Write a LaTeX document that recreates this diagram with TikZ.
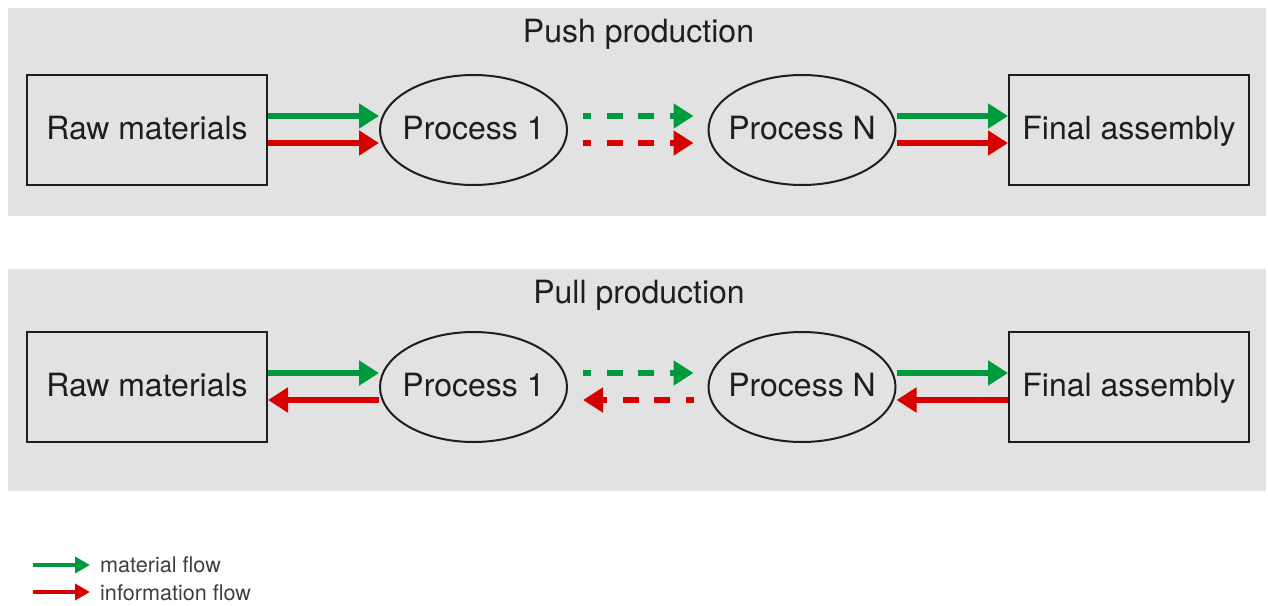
\documentclass[tikz,border=0pt]{standalone}
\usepackage{fontspec}
\setmainfont{TeX Gyre Heros}
\usetikzlibrary{arrows.meta,shapes.geometric}

\definecolor{panelgray}{RGB}{226,226,226}
\definecolor{flowgreen}{RGB}{0,154,62}
\definecolor{flowred}{RGB}{214,0,0}
\definecolor{inkgray}{RGB}{30,30,30}

\tikzset{
  panel/.style={fill=panelgray, draw=none},
  stagebox/.style={draw=inkgray, line width=2pt, rectangle, inner sep=0pt,
    minimum width=240pt, minimum height=110pt,
    font=\fontsize{32pt}{36pt}\selectfont, text=inkgray,
    text height=23pt, text depth=4pt},
  proc/.style={draw=inkgray, line width=2pt, ellipse, inner sep=0pt,
    minimum width=187pt, minimum height=110pt},
  proclabel/.style={font=\fontsize{32pt}{36pt}\selectfont, text=inkgray,
    inner sep=0pt, text height=23pt, text depth=4pt},
  paneltitle/.style={font=\fontsize{32pt}{36pt}\selectfont, text=inkgray,
    inner sep=0pt, anchor=base},
  legendtext/.style={font=\fontsize{21.6pt}{25pt}\selectfont, text=inkgray!85,
    inner sep=0pt, anchor=base west},
  flow/.style={line width=6.5pt, -{Triangle[length=20pt,width=24pt]}},
  mat/.style={flow, draw=flowgreen},
  info/.style={flow, draw=flowred},
  dashflow/.style={dash pattern=on 16pt off 15.5pt, dash phase=8pt,
    shorten <=15pt, shorten >=14pt},
  legendflow/.style={line width=4pt, -{Triangle[length=15pt,width=16pt]}},
}

\begin{document}
\begin{tikzpicture}[x=1pt,y=-1pt]
  \useasboundingbox (0,0) rectangle (1268,605);

  % background panels
  \fill[panel] (8,8) rectangle (1266,216);
  \fill[panel] (8,269) rectangle (1266,491);

  % ---------- push production ----------
  \node[paneltitle] (pushtitle) at (638.5,42) {Push production};
  \node[stagebox] (rawA) at (147,130) {Raw materials};
  \node[proc] (pA1) at (473.5,130) {};
  \node[proclabel] at (pA1) {Process 1};
  \node[proc] (pAN) at (802,130) {};
  \node[proclabel] at (pAN) {Process N};
  \node[stagebox] (finA) at (1129,130) {Final assembly};

  \draw[mat]  ([yshift=14pt]rawA.east) -- ([yshift=14pt]pA1.west);
  \draw[info] ([yshift=-13pt]rawA.east) -- ([yshift=-13pt]pA1.west);
  \draw[mat,dashflow]  ([yshift=14pt]pA1.east) -- ([yshift=14pt]pAN.west);
  \draw[info,dashflow] ([yshift=-13pt]pA1.east) -- ([yshift=-13pt]pAN.west);
  \draw[mat]  ([yshift=14pt]pAN.east) -- ([yshift=14pt]finA.west);
  \draw[info] ([yshift=-13pt]pAN.east) -- ([yshift=-13pt]finA.west);

  % ---------- pull production ----------
  \node[paneltitle] (pulltitle) at (639,303) {Pull production};
  \node[stagebox] (rawB) at (147,387) {Raw materials};
  \node[proc] (pB1) at (473.5,387) {};
  \node[proclabel] at (pB1) {Process 1};
  \node[proc] (pBN) at (802,387) {};
  \node[proclabel] at (pBN) {Process N};
  \node[stagebox] (finB) at (1129,387) {Final assembly};

  \draw[mat]  ([yshift=14pt]rawB.east) -- ([yshift=14pt]pB1.west);
  \draw[info] ([yshift=-13pt]pB1.west) -- ([yshift=-13pt]rawB.east);
  \draw[mat,dashflow]  ([yshift=14pt]pB1.east) -- ([yshift=14pt]pBN.west);
  \draw[info,dashflow,shorten <=14pt,shorten >=15pt]
    ([yshift=-13pt]pBN.west) -- ([yshift=-13pt]pB1.east);
  \draw[mat]  ([yshift=14pt]pBN.east) -- ([yshift=14pt]finB.west);
  \draw[info] ([yshift=-13pt]finB.west) -- ([yshift=-13pt]pBN.east);

  % ---------- legend ----------
  \node[legendtext] (lgmat) at (100,572) {material flow};
  \node[legendtext] (lginfo) at (100,600) {information flow};
  \coordinate (lgmatstart) at (33,565);
  \coordinate (lgmatend) at (90,565);
  \coordinate (lginfostart) at (33,592);
  \coordinate (lginfoend) at (90,592);
  \draw[legendflow, draw=flowgreen] (lgmatstart) -- (lgmatend);
  \draw[legendflow, draw=flowred] (lginfostart) -- (lginfoend);
\end{tikzpicture}
\end{document}
